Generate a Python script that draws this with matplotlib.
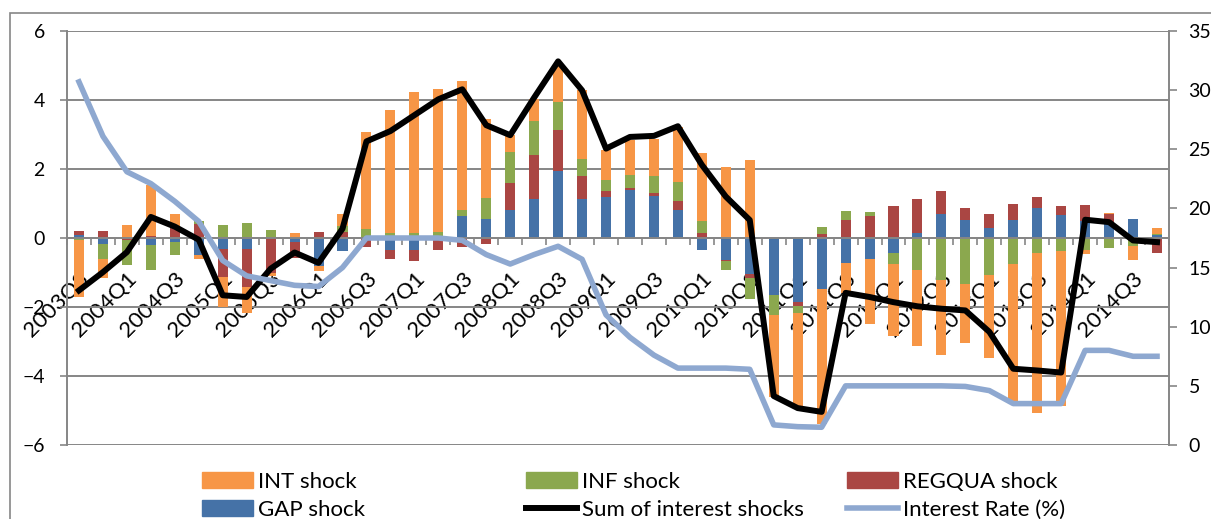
import matplotlib.pyplot as plt
import numpy as np
from matplotlib.patches import Rectangle, Patch
from matplotlib.lines import Line2D
from matplotlib.ticker import FixedLocator, NullFormatter

plt.rcParams['font.family'] = ['Lato', 'DejaVu Sans']

# quarters 2003Q3 .. 2014Q4
quarters = [f"{y}Q{q}" for y in range(2003, 2015) for q in range(1, 5)][2:]

gap_shock = [0.10, -0.18, 0.00, -0.21, -0.12, -0.50, -0.31, -0.31, 0.00, -0.12,
             -0.80, -0.39, 0.00, -0.34, -0.34, 0.00, 0.64, 0.54, 0.80, 1.14,
             1.94, 1.12, 1.19, 1.40, 1.22, 0.82, -0.34, -0.63, -1.03, -1.66,
             -1.86, -1.47, -0.72, -0.62, -0.43, 0.15, 0.70, 0.53, 0.29, 0.53,
             0.88, 0.68, 0.48, 0.43, 0.54, 0.10]
regqua_shock = [0.10, 0.19, -0.05, 0.05, 0.32, 0.40, -0.82, -1.10, -1.00, -0.45,
                0.16, 0.16, -0.26, -0.28, -0.33, -0.34, -0.26, -0.16, 0.79, 1.26,
                1.20, 0.67, 0.16, 0.06, 0.07, 0.24, 0.14, -0.05, -0.12, 0.00,
                -0.10, 0.12, 0.51, 0.63, 0.93, 0.97, 0.65, 0.35, 0.42, 0.45,
                0.31, 0.26, 0.47, 0.27, 0.00, -0.43]
inf_shock = [-0.05, -0.44, -0.72, -0.73, -0.38, 0.08, 0.37, 0.43, 0.22, 0.00,
             0.02, 0.18, 0.27, 0.15, 0.15, 0.17, 0.18, 0.62, 0.90, 0.99,
             0.80, 0.49, 0.32, 0.36, 0.50, 0.56, 0.35, -0.24, -0.61, -0.58,
             -0.20, 0.20, 0.27, 0.13, -0.32, -0.92, -1.23, -1.32, -1.08, -0.74,
             -0.43, -0.39, -0.34, -0.29, -0.24, 0.03]
int_shock = [-1.66, -0.55, 0.37, 1.48, 0.39, -0.10, -0.87, -0.76, -0.11, 0.15,
             -0.15, 0.36, 2.80, 3.57, 4.09, 4.16, 3.72, 2.30, 0.49, 0.63,
             1.10, 2.00, 0.87, 1.01, 1.09, 1.60, 1.97, 2.06, 2.27, -2.36,
             -2.73, -3.91, -0.88, -1.88, -2.08, -2.21, -2.17, -1.72, -2.39, -3.98,
             -4.63, -4.48, -0.12, 0.03, -0.39, 0.17]
sum_shocks = [-1.52, -0.99, -0.41, 0.61, 0.33, -0.05, -1.66, -1.71, -0.89, -0.42,
              -0.72, 0.27, 2.80, 3.10, 3.56, 4.02, 4.31, 3.27, 2.98, 4.07,
              5.12, 4.28, 2.59, 2.93, 2.96, 3.24, 2.12, 1.20, 0.52, -4.58,
              -4.93, -5.04, -1.59, -1.71, -1.86, -1.98, -2.05, -2.10, -2.72, -3.79,
              -3.84, -3.90, 0.53, 0.46, -0.07, -0.12]
interest_rate = [30.7, 26.1, 23.1, 22.1, 20.6, 18.9, 15.6, 14.3, 13.9, 13.5,
                 13.4, 15.0, 17.5, 17.5, 17.5, 17.5, 17.3, 16.1, 15.3, 16.1,
                 16.8, 15.7, 11.0, 9.1, 7.6, 6.5, 6.5, 6.5, 6.4, 1.7,
                 1.55, 1.5, 5.0, 5.0, 5.0, 5.0, 5.0, 4.95, 4.6, 3.5,
                 3.5, 3.5, 8.0, 8.0, 7.5, 7.5]

c_int = '#F79646'
c_inf = '#8BA84E'
c_reg = '#AA4643'
c_gap = '#4572A7'
c_rate = '#8EA8D0'
grey = '#868686'

W, H = 1211, 519
fig = plt.figure(figsize=(W / 100, H / 100), dpi=100)
ax = fig.add_axes([67 / W, 1 - 445 / H, (1169 - 67) / W, (445 - 31) / H])

x = np.arange(len(quarters))
pos_base = np.zeros(len(x))
neg_base = np.zeros(len(x))
for vals, col in [(gap_shock, c_gap), (regqua_shock, c_reg), (inf_shock, c_inf), (int_shock, c_int)]:
    v = np.array(vals)
    p = np.where(v > 0, v, 0)
    m = np.where(v < 0, v, 0)
    ax.bar(x, p, 0.42, bottom=pos_base, color=col, zorder=1)
    ax.bar(x, m, 0.42, bottom=neg_base, color=col, zorder=1)
    pos_base += p
    neg_base += m

ax.plot(x, sum_shocks, color='black', lw=4.3, zorder=3)

ax.set_xlim(-0.5, len(x) - 0.5)
ax.set_ylim(-6, 6)
ax.set_yticks(range(-6, 7, 2))
ax.yaxis.grid(True, color=grey, lw=1.4)
ax.set_axisbelow(True)

ax.spines['top'].set_visible(False)
ax.spines['right'].set_visible(False)
ax.spines['left'].set_color(grey)
ax.spines['left'].set_linewidth(1.4)
ax.spines['bottom'].set_position(('data', 0))
ax.spines['bottom'].set_color(grey)
ax.spines['bottom'].set_linewidth(1.4)

ax.xaxis.set_major_locator(FixedLocator(np.arange(-0.5, len(x), 1)))
ax.xaxis.set_major_formatter(NullFormatter())
ax.set_xticks(x[::2], quarters[::2], minor=True)
ax.tick_params(axis='x', which='major', direction='out', length=5, width=1.2, color=grey)
ax.tick_params(axis='x', which='minor', length=0, pad=22, labelsize=16, rotation=45)
for lab in ax.get_xticklabels(minor=True):
    lab.set_ha('right')
    lab.set_rotation_mode('anchor')
ax.tick_params(axis='y', direction='out', length=5, width=1.2, color=grey, labelsize=14, pad=11)

ax2 = ax.twinx()
ax2.plot(x, interest_rate, color=c_rate, lw=4.0, zorder=3)
ax2.set_ylim(0, 35)
ax2.set_yticks(range(0, 36, 5))
for s in ['top', 'left', 'bottom']:
    ax2.spines[s].set_visible(False)
ax2.spines['right'].set_color(grey)
ax2.spines['right'].set_linewidth(1.4)
ax2.tick_params(axis='y', direction='out', length=6, width=1.2, color=grey, labelsize=14, pad=8)

# outer chart frame
fig.patches.append(Rectangle((10 / W, -0.05), 1.2, 1 - 13 / H + 0.05, transform=fig.transFigure,
                             fill=False, ec=grey, lw=1.2))

cols = [
    (202, [Patch(color=c_int), Patch(color=c_gap)], ['INT shock', 'GAP shock']),
    (526, [Patch(color=c_inf), Line2D([], [], color='black', lw=4.3)], ['INF shock', 'Sum of interest shocks']),
    (847, [Patch(color=c_reg), Line2D([], [], color=c_rate, lw=4.0)], ['REGQUA shock', 'Interest Rate (%)']),
]
for xpos, hs, ls in cols:
    fig.legend(hs, ls, loc='upper left', bbox_to_anchor=(xpos / W, 1 - 472 / H),
               frameon=False, fontsize=16, handlelength=2.3, handleheight=0.72,
               handletextpad=0.22, borderpad=0, borderaxespad=0, labelspacing=0.35)

fig.savefig('out.png', dpi=100)
